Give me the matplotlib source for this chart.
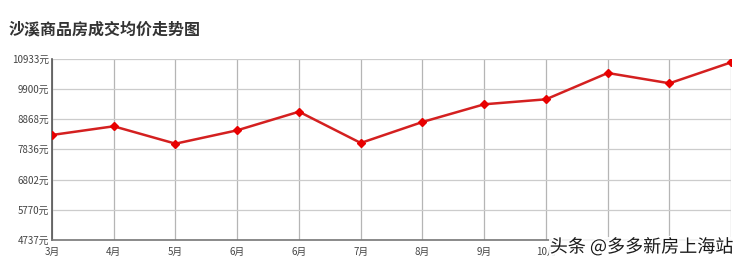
import matplotlib.pyplot as plt
import matplotlib.patheffects as pe

plt.rcParams['font.family'] = ['Noto Sans CJK SC', 'DejaVu Sans']

# Monatsdaten
months = ['3月', '4月', '5月', '6月', '6月', '7月', '8月', '9月', '10月', '', '', '']
prices = [8322, 8619, 8025, 8482, 9117, 8049, 8766, 9370, 9540, 10438, 10087, 10804]
y_ticks = [4737, 5770, 6802, 7836, 8868, 9900, 10933]
y_labels = [f'{v}元' for v in y_ticks]

fig = plt.figure(figsize=(7.5, 2.68), dpi=100)
ax = fig.add_axes([0.0693, 0.1045, 0.9057, 0.6772])

x = list(range(len(months)))
ax.plot(x, prices, color='#d42020', linewidth=1.8, marker='D', markersize=4.5,
        markerfacecolor='#e80000', markeredgecolor='#e80000', zorder=3)

ax.set_xlim(0, len(months) - 1)
ax.set_ylim(y_ticks[0], y_ticks[-1])
ax.set_xticks(x)
ax.set_xticklabels(months)
ax.set_yticks(y_ticks)
ax.set_yticklabels(y_labels)
ax.tick_params(axis='both', length=0, labelsize=7, colors='#444444')
ax.tick_params(axis='x', pad=5)
ax.tick_params(axis='y', pad=2)

ax.grid(True, axis='y', color='#cccccc', linewidth=0.9)
ax.grid(True, axis='x', color='#b5b5b5', linewidth=0.9)
ax.set_axisbelow(True)
for s in ['top', 'right']:
    ax.spines[s].set_visible(False)
ax.spines['left'].set_color('#555555')
ax.spines['bottom'].set_color('#777777')
ax.spines['left'].set_linewidth(1.2)
ax.spines['bottom'].set_linewidth(1.2)

fig.text(0.012, 0.89, '沙溪商品房成交均价走势图', fontsize=11.5, fontweight='bold',
         color='#333333', va='center', ha='left')

# Wasserzeichen
fig.text(0.733, 0.078, '头条 @多多新房上海站', fontsize=13, color='#1a1a1a',
         va='center', ha='left',
         bbox=dict(facecolor='white', edgecolor='none', pad=0.5, alpha=0.9),
         path_effects=[pe.withStroke(linewidth=2, foreground='white')])

fig.savefig('out.png', dpi=100)
